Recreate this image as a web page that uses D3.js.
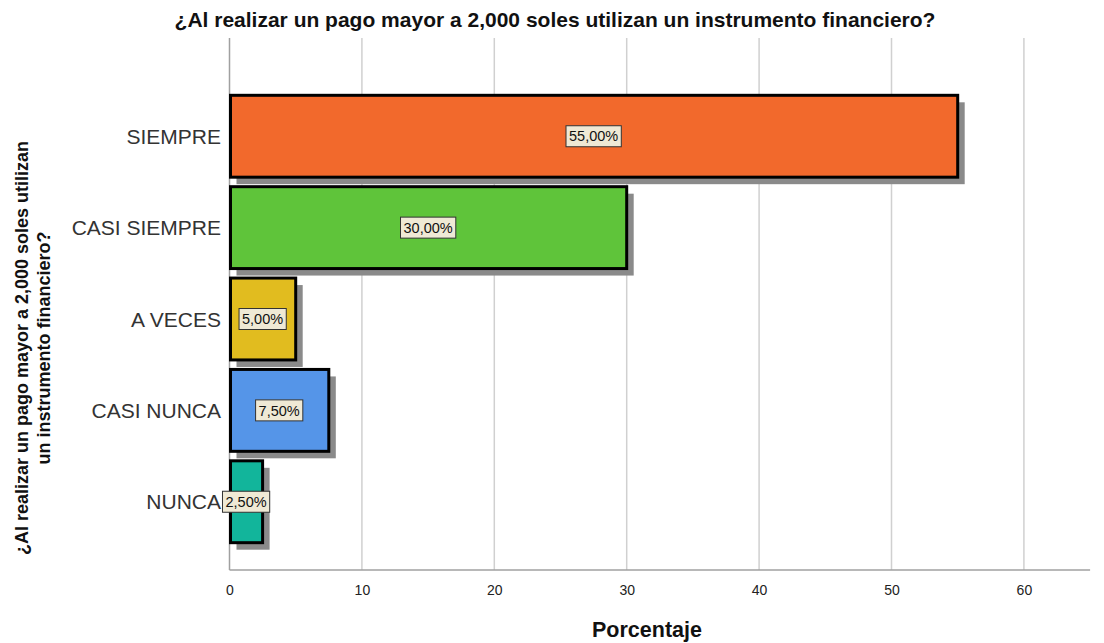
<!DOCTYPE html>
<html>
<head>
<meta charset="utf-8">
<script src="https://cdn.jsdelivr.net/npm/d3@7"></script>
<style>
  body { margin: 0; background: #fff; }
  text { font-family: "Liberation Sans", Arial, sans-serif; }
</style>
</head>
<body>
<svg width="1104" height="643"></svg>
<script>
var categories = ["SIEMPRE", "CASI SIEMPRE", "A VECES", "CASI NUNCA", "NUNCA"];
var values = [55.0, 30.0, 5.0, 7.5, 2.5];
var colors = ["#f2692c", "#5fc43a", "#e1bc1f", "#5595e8", "#12b59b"];
var ticks = [0, 10, 20, 30, 40, 50, 60];

var svg = d3.select("svg");
var plotTop = 38, plotBottom = 570, plotLeft = 229.5;

var x = d3.scaleLinear().domain([0, 65]).range([plotLeft, plotLeft + 65 * 13.24]);
var y = d3.scaleBand().domain(categories).range([88, 550]).paddingInner(0.104).paddingOuter(0.08);

// gridlines
svg.append("g").selectAll("line")
    .data(ticks.slice(1))
    .enter().append("line")
    .attr("x1", function (d) { return x(d); })
    .attr("x2", function (d) { return x(d); })
    .attr("y1", plotTop)
    .attr("y2", plotBottom)
    .attr("stroke", "#d0d0d0")
    .attr("stroke-width", 1.5);

// axes lines
svg.append("line")
    .attr("x1", plotLeft).attr("x2", plotLeft)
    .attr("y1", plotTop).attr("y2", plotBottom)
    .attr("stroke", "#a0a0a0").attr("stroke-width", 1.5);
svg.append("line")
    .attr("x1", plotLeft).attr("x2", x(65))
    .attr("y1", plotBottom).attr("y2", plotBottom)
    .attr("stroke", "#a0a0a0").attr("stroke-width", 1.5);

// x tick labels
var xAxis = d3.axisBottom(x).tickValues(ticks).tickSize(0).tickPadding(15);
var gx = svg.append("g").attr("transform", "translate(0," + plotBottom + ")").call(xAxis);
gx.select(".domain").remove();
gx.selectAll("text")
    .attr("font-size", 14)
    .attr("fill", "#222")
    .style("font-family", "'Liberation Sans', Arial, sans-serif");

var bars = svg.append("g").selectAll("g")
    .data(categories)
    .enter().append("g");

// shadows
bars.append("rect")
    .attr("x", function (d) { return x(0) + 7; })
    .attr("y", function (d) { return y(d) + 7; })
    .attr("width", function (d, i) { return x(values[i]) - x(0); })
    .attr("height", y.bandwidth())
    .attr("fill", "#8a8a8a");

bars.append("rect")
    .attr("x", x(0) + 1)
    .attr("y", function (d) { return y(d); })
    .attr("width", function (d, i) { return x(values[i]) - x(0) - 1; })
    .attr("height", y.bandwidth())
    .attr("fill", function (d, i) { return colors[i]; })
    .attr("stroke", "#000")
    .attr("stroke-width", 3);

// value labels
bars.each(function (d, i) {
    var g = d3.select(this);
    var cx = (x(0) + x(values[i])) / 2;
    var cy = y(d) + y.bandwidth() / 2;
    var label = values[i].toFixed(2).replace(".", ",") + "%";
    var t = g.append("text")
        .attr("x", cx)
        .attr("y", cy)
        .attr("dy", "0.36em")
        .attr("text-anchor", "middle")
        .attr("font-size", 14.5)
        .attr("fill", "#111")
        .text(label);
    var bb = t.node().getBBox();
    g.insert("rect", "text:last-child")
        .attr("x", bb.x - 3)
        .attr("y", cy - 10.5)
        .attr("width", bb.width + 6)
        .attr("height", 21)
        .attr("fill", "#efe9d5")
        .attr("stroke", "#333")
        .attr("stroke-width", 1);
    t.raise();
});

// category labels
svg.append("g").selectAll("text")
    .data(categories)
    .enter().append("text")
    .attr("x", 221)
    .attr("y", function (d) { return y(d) + y.bandwidth() / 2; })
    .attr("dy", "0.36em")
    .attr("text-anchor", "end")
    .attr("font-size", 21)
    .attr("fill", "#333")
    .text(function (d) { return d; });

// title
svg.append("text")
    .attr("x", 555)
    .attr("y", 27)
    .attr("text-anchor", "middle")
    .attr("font-size", 21)
    .attr("font-weight", "bold")
    .attr("fill", "#111")
    .text("¿Al realizar un pago mayor a 2,000 soles utilizan un instrumento financiero?");

// x title
svg.append("text")
    .attr("x", 647)
    .attr("y", 637)
    .attr("text-anchor", "middle")
    .attr("font-size", 21.5)
    .attr("font-weight", "bold")
    .attr("fill", "#111")
    .text("Porcentaje");

// y title
var yt = svg.append("text")
    .attr("transform", "translate(0,348) rotate(-90)")
    .attr("text-anchor", "middle")
    .attr("font-size", 18)
    .attr("font-weight", "bold")
    .attr("fill", "#111");
yt.append("tspan").attr("x", 0).attr("y", 28).text("¿Al realizar un pago mayor a 2,000 soles utilizan");
yt.append("tspan").attr("x", 0).attr("y", 50).text("un instrumento financiero?");
</script>
</body>
</html>
